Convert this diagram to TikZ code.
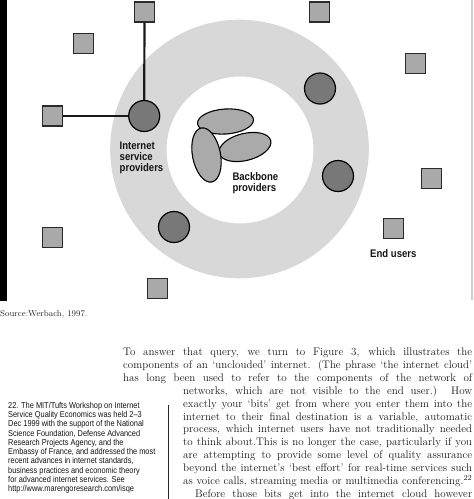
\documentclass[tikz,border=0pt]{standalone}
\usepackage{fontspec}
\usetikzlibrary{shapes.geometric}
\newfontfamily\labfont[FakeStretch=0.87]{Liberation Sans}
\newfontfamily\fnfont[FakeStretch=0.86]{Liberation Sans}
\definecolor{ringc}{HTML}{D8D8D8}
\definecolor{ispc}{HTML}{787878}
\definecolor{sqc}{HTML}{A9A9A9}
\definecolor{sqb}{HTML}{2A2A2A}
\definecolor{bbc}{HTML}{AAAAAA}
\definecolor{linkc}{HTML}{1A1A1A}
\definecolor{edgec}{HTML}{CFCFCF}
\newcommand{\jline}[2]{\hbox to #1{#2}}
\tikzset{
  enduser/.style={rectangle, draw=sqb, fill=sqc, line width=1.1pt, minimum size=20pt, inner sep=0pt},
  isp/.style={circle, draw=black, fill=ispc, line width=1.2pt, minimum size=31pt, inner sep=0pt},
  bbone/.style={ellipse, draw=black, fill=bbc, line width=1.1pt, inner sep=0pt},
  link/.style={draw=linkc, line width=2.2pt},
  labtxt/.style={anchor=base west, inner sep=0pt, text=black!92, font=\labfont\bfseries\fontsize{11}{12}\selectfont},
  bodytxt/.style={anchor=base west, inner sep=0pt, text=black!90, font=\fontsize{11}{13}\selectfont},
  fntxt/.style={anchor=base west, inner sep=0pt, text=black!92, font=\fnfont\fontsize{8.6}{9.2}\selectfont},
}
\begin{document}
\begin{tikzpicture}[x=1pt,y=-1pt]
\path[use as bounding box] (0,0) rectangle (474,499);
\clip (0,0) rectangle (474,499);
\fill[white] (0,0) rectangle (474,499);
% frame marks
\fill[black] (0,0) rectangle (7,301);
\fill[edgec] (471,0) rectangle (473,300);
% ring
\fill[ringc, even odd rule] (239.5,149) circle (129.3pt) (240,150) circle (73.5pt);
% end users
\node[enduser] (s1) at (83.8,43.2) {};
\node[enduser] (s2) at (144.5,12) {};
\node[enduser] (s3) at (52.8,116) {};
\node[enduser] (s4) at (319.8,12) {};
\node[enduser] (s5) at (415.8,63.8) {};
\node[enduser] (s6) at (52.8,237.2) {};
\node[enduser] (s7) at (157.2,288.8) {};
\node[enduser] (s8) at (431.7,178.7) {};
\node[enduser] (s9) at (393.5,228.2) {};
% ISPs
\node[isp] (i1) at (144.2,116) {};
\node[isp] (i2) at (320,88.5) {};
\node[isp] (i3) at (174,227) {};
\node[isp] (i4) at (338,176) {};
% connectors
\draw[link] (s2) -- (i1);
\draw[link] (s3) -- (i1);
% backbone
\node[bbone, minimum width=56pt, minimum height=25pt, rotate=4] (b1) at (225.5,121.5) {};
\node[bbone, minimum width=53pt, minimum height=27pt, rotate=14] (b3) at (245,147) {};
\node[bbone, minimum width=55pt, minimum height=28pt, rotate=-79] (b2) at (206.5,155) {};
% labels
\node[labtxt] (li1) at (119.5,149.5) {Internet};
\node[labtxt] (li2) at (119.5,160.6) {service};
\node[labtxt] (li3) at (119.5,171.3) {providers};
\node[labtxt] (lb1) at (232.3,180.4) {Backbone};
\node[labtxt] (lb2) at (232.3,191.2) {providers};
\node[labtxt] (le) at (370,257) {End users};
% caption
\node[anchor=base west, inner sep=0pt, text=black!85, font=\fontsize{8.6}{10}\selectfont] (src) at (0,316.5) {Source:Werbach, 1997.};
% body text
\node[bodytxt] (t1) at (123,355.5) {\jline{349pt}{To answer that query, we turn to Figure 3, which illustrates the}};
\node[bodytxt] (t2) at (123,368.4) {\jline{349pt}{components of an ‘unclouded’ internet. (The phrase ‘the internet cloud’}};
\node[bodytxt] (t3) at (123,381.3) {\jline{349pt}{has long been used to refer to the components of the network of}};
\node[bodytxt] (t4) at (183,394.2) {\jline{289pt}{networks, which are not visible to the end user.) How}};
\node[bodytxt] (t5) at (183,407.1) {\jline{289pt}{exactly your ‘bits’ get from where you enter them into the}};
\node[bodytxt] (t6) at (183,420.0) {\jline{289pt}{internet to their final destination is a variable, automatic}};
\node[bodytxt] (t7) at (183,432.9) {\jline{289pt}{process, which internet users have not traditionally needed}};
\node[bodytxt] (t8) at (183,445.8) {\jline{289pt}{to think about.This is no longer the case, particularly if you}};
\node[bodytxt] (t9) at (183,458.7) {\jline{289pt}{are attempting to provide some level of quality assurance}};
\node[bodytxt] (t10) at (183,471.6) {\jline{289pt}{beyond the internet’s ‘best effort’ for real-time services such}};
\node[bodytxt] (t11) at (183,484.5) {\jline{289pt}{as voice calls, streaming media or multimedia conferencing.\textsuperscript{22}}};
\node[bodytxt] (t12) at (195,497.4) {\jline{277pt}{Before those bits get into the internet cloud however}};
% rule
\coordinate (r1) at (168,405);
\coordinate (r2) at (168,500);
\draw[line width=1pt, black!85] (r1) -- (r2);
% footnote
\node[fntxt] (f1) at (8,408.3) {22. The MIT/Tufts Workshop on Internet};
\node[fntxt] (f2) at (8,417.55) {Service Quality Economics was held 2–3};
\node[fntxt] (f3) at (8,426.8) {Dec 1999 with the support of the National};
\node[fntxt] (f4) at (8,436.05) {Science Foundation, Defense Advanced};
\node[fntxt] (f5) at (8,445.3) {Research Projects Agency, and the};
\node[fntxt] (f6) at (8,454.55) {Embassy of France, and addressed the most};
\node[fntxt] (f7) at (8,463.8) {recent advances in internet standards,};
\node[fntxt] (f8) at (8,473.05) {business practices and economic theory};
\node[fntxt] (f9) at (8,482.3) {for advanced internet services. See};
\node[fntxt] (f10) at (8,491.55) {http://www.marengoresearch.com/isqe};
\end{tikzpicture}
\end{document}
